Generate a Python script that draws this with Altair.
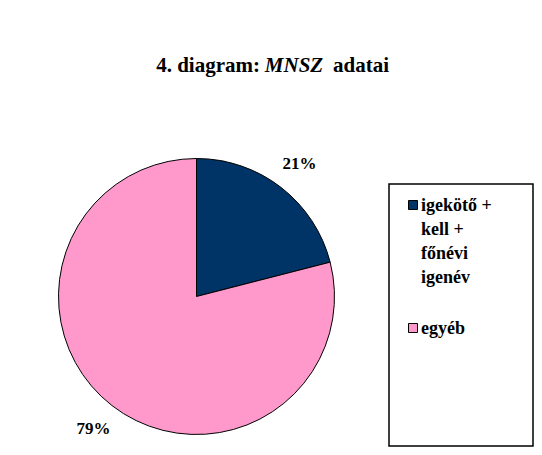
import altair as alt
import pandas as pd

# ---- data ----
categories = ["igekötő + kell + főnévi igenév", "egyéb"]
values = [21, 79]
labels = ["21%", "79%"]
colors = ["#003366", "#ff99cc"]
legend_lines = [["igekötő +", "kell +", "főnévi", "igenév"], ["egyéb"]]
title_parts = ["4. diagram:", "MNSZ", "adatai"]

df = pd.DataFrame({"category": categories, "value": values, "label": labels, "order": [0, 1]})
one = pd.DataFrame({"d": [0]})

FONT = "Liberation Serif"
CX, CY, R = 188.5, 288.5, 138
W, H = 526, 439

color_scale = alt.Scale(domain=categories, range=colors)
base = alt.Chart(df)

pie = base.mark_arc(radius=R, stroke="black", strokeWidth=1).encode(
    theta=alt.Theta("value:Q", stack=True),
    color=alt.Color("category:N", scale=color_scale, legend=None),
    order=alt.Order("order:Q"),
    x=alt.value(CX),
    y=alt.value(CY),
)

pct = base.mark_text(radius=168, font=FONT, fontSize=17, fontWeight="bold", color="black").encode(
    theta=alt.Theta("value:Q", stack=True),
    order=alt.Order("order:Q"),
    text="label:N",
    x=alt.value(CX),
    y=alt.value(CY),
)

# title (mixed styles)
t1 = alt.Chart(one).mark_text(font=FONT, fontSize=21, fontWeight="bold", align="right",
                              baseline="alphabetic", color="black").encode(
    text=alt.value(title_parts[0]), x=alt.value(252), y=alt.value(64))
t2 = alt.Chart(one).mark_text(font=FONT, fontSize=21, fontWeight="bold", fontStyle="italic",
                              align="center", baseline="alphabetic", color="black").encode(
    text=alt.value(title_parts[1]), x=alt.value(286), y=alt.value(64))
t3 = alt.Chart(one).mark_text(font=FONT, fontSize=21, fontWeight="bold", align="left",
                              baseline="alphabetic", color="black").encode(
    text=alt.value(title_parts[2]), x=alt.value(325), y=alt.value(64))

# legend box
box = alt.Chart(one).mark_rect(fill="white", stroke="black", strokeWidth=1.5).encode(
    x=alt.value(381), x2=alt.value(525), y=alt.value(176), y2=alt.value(438))

legend_layers = []
sq_y = [197, 320]
txt_y = [203, 326]
for i, cat in enumerate(categories):
    sw = alt.Chart(df).transform_filter(alt.datum.category == cat).mark_square(
        size=81, opacity=1, filled=True, stroke="black", strokeWidth=1).encode(
        color=alt.Color("category:N", scale=color_scale, legend=None),
        x=alt.value(405), y=alt.value(sq_y[i]))
    tx = alt.Chart(one).mark_text(font=FONT, fontSize=18, fontWeight="bold", align="left",
                                  baseline="alphabetic", lineHeight=24, color="black").encode(
        text=alt.value(legend_lines[i]), x=alt.value(413), y=alt.value(txt_y[i]))
    legend_layers += [sw, tx]

chart = alt.layer(pie, pct, t1, t2, t3, box, *legend_layers).properties(
    width=W, height=H,
    autosize=alt.AutoSizeParams(type="none"),
    padding=0,
    background="white",
).configure_view(stroke=None)

chart.save("out.html", embed_options={"renderer": "svg", "actions": False})
